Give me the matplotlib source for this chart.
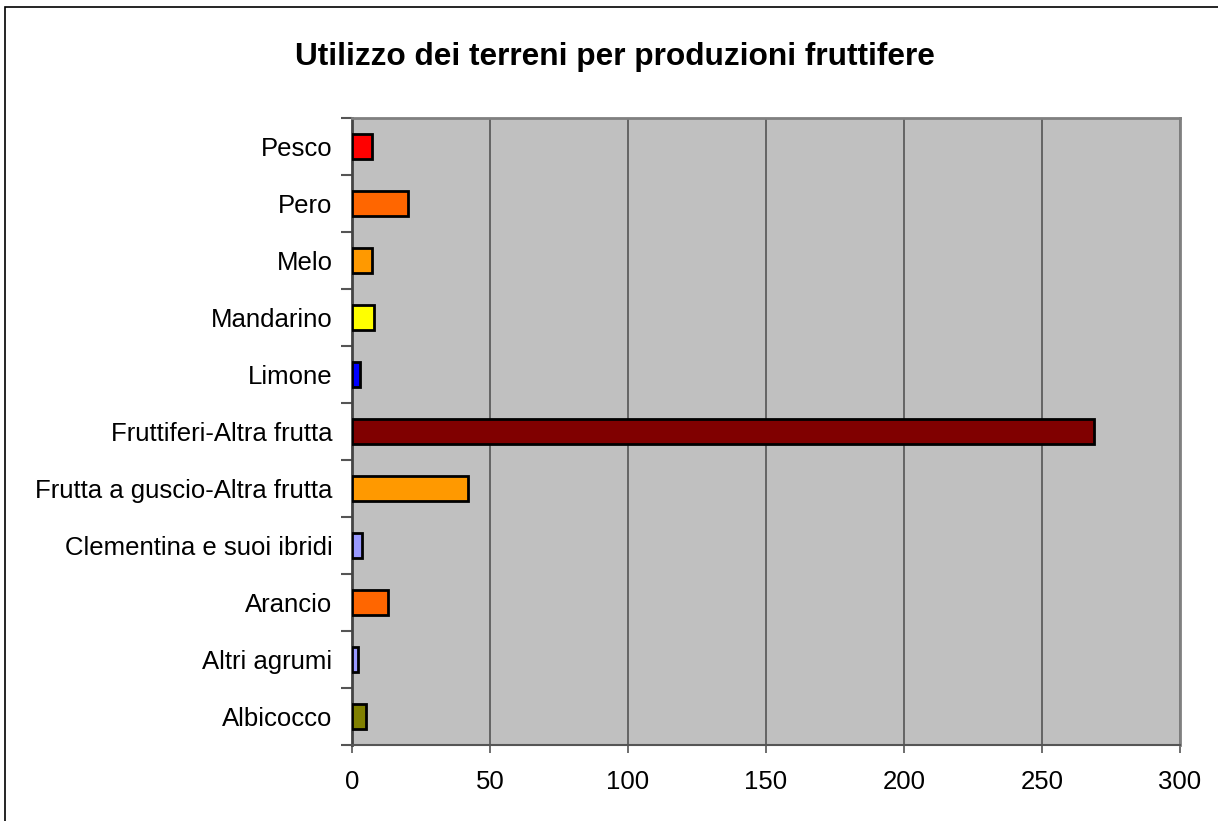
import matplotlib.pyplot as plt
from matplotlib.patches import Rectangle

# DATI (dal basso verso l'alto)
categorie = ["Albicocco", "Altri agrumi", "Arancio", "Clementina e suoi ibridi",
             "Frutta a guscio-Altra frutta", "Fruttiferi-Altra frutta", "Limone",
             "Mandarino", "Melo", "Pero", "Pesco"]
valori = [5.1, 2.2, 13.0, 3.5, 42.0, 269.0, 2.9, 8.0, 7.2, 20.3, 7.3]
colori = ["#808000", "#9999FF", "#FF6600", "#9999FF", "#FF9900", "#800000",
          "#0000FF", "#FFFF00", "#FF9900", "#FF6600", "#FF0000"]
xticks = [0, 50, 100, 150, 200, 250, 300]

plt.rcParams['font.family'] = ['Liberation Sans', 'DejaVu Sans']

fig = plt.figure(figsize=(12.18, 8.21), dpi=100)
fig.patches.append(Rectangle((5/1218, -0.01), 1.2, 1 - 7/821 + 0.01,
                             transform=fig.transFigure, fill=False,
                             edgecolor='black', linewidth=1.2))

ax = fig.add_axes([352/1218, 1 - 745/821, (1180 - 352)/1218, (745 - 118)/821])
ax.set_facecolor('#C0C0C0')

y = range(len(categorie))
ax.barh(y, valori, height=0.43, color=colori, edgecolor='black', linewidth=2, zorder=3)

ax.set_xlim(0, 300)
ax.set_ylim(-0.5, len(categorie) - 0.5)
ax.set_xticks(xticks)
ax.set_xticklabels([str(v) for v in xticks], fontsize=18.5)
ax.set_yticks(list(y))
ax.set_yticklabels(categorie, fontsize=18.5)
ax.tick_params(axis='y', length=0, pad=14)
ax.tick_params(axis='x', length=6, color='#555555', pad=12, width=1.2)
# tacche tra le categorie
ax.set_yticks([i + 0.5 for i in range(-1, len(categorie))], minor=True)
ax.tick_params(axis='y', which='minor', length=8, color='#555555', width=1.5)

ax.grid(axis='x', color='#555555', linewidth=1.2, zorder=1)
for s in ax.spines.values():
    s.set_color('#808080')
    s.set_linewidth(2)
ax.spines['left'].set_color('#444444')
ax.spines['bottom'].set_color('#555555')
ax.spines['bottom'].set_linewidth(1.5)

fig.text(615/1218, 1 - 57/821, "Utilizzo dei terreni per produzioni fruttifere",
         ha='center', va='center', fontsize=22.8, fontweight='bold')

fig.savefig('out.png', dpi=100)
